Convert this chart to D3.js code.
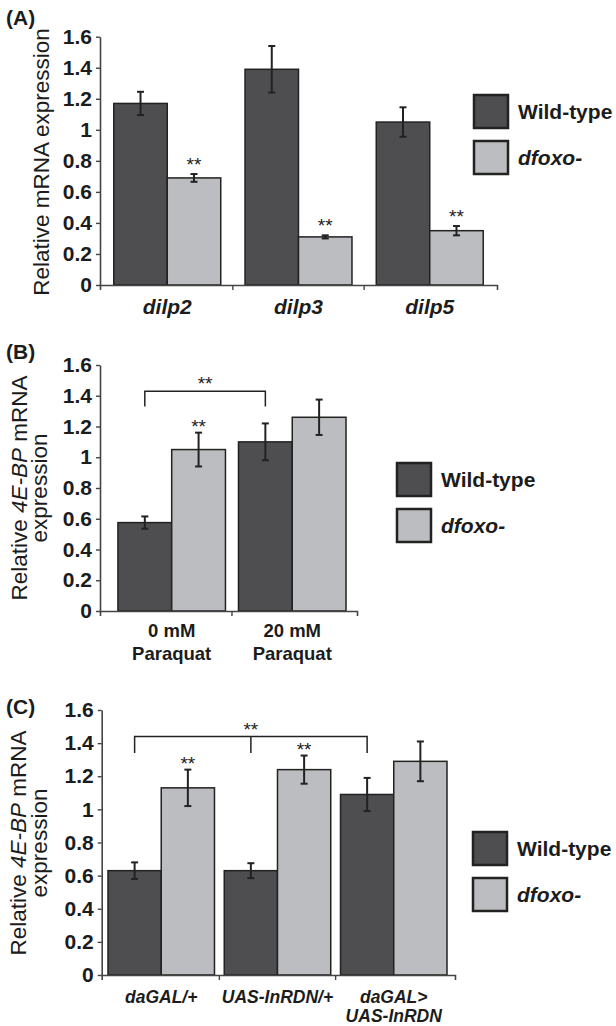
<!DOCTYPE html>
<html>
<head>
<meta charset="utf-8">
<script src="https://cdn.jsdelivr.net/npm/d3@7"></script>
<style>
  body { margin: 0; background: #fff; }
  svg { display: block; font-family: "Liberation Sans", Arial, Helvetica, sans-serif; }
</style>
</head>
<body>
<div id="viz"></div>
<script>
'use strict';

const seriesNames = ['Wild-type', 'dfoxo-'];
const yTicks = [0, 0.2, 0.4, 0.6, 0.8, 1, 1.2, 1.4, 1.6];

// (A) dilp transcripts
const catsA = [['dilp2'], ['dilp3'], ['dilp5']];
const wtA = [1.17, 1.39, 1.05];
const wtErrA = [0.075, 0.15, 0.095];
const foxoA = [0.69, 0.31, 0.35];
const foxoErrA = [0.025, 0.01, 0.03];
const starsA = ['**', '**', '**'];

// (B) 4E-BP with paraquat
const catsB = [['0 mM', 'Paraquat'], ['20 mM', 'Paraquat']];
const wtB = [0.575, 1.10];
const wtErrB = [0.04, 0.12];
const foxoB = [1.05, 1.26];
const foxoErrB = [0.11, 0.115];
const starsB = ['**', ''];
const bracketB = [0, 1];

// (C) 4E-BP with InR dominant negative
const catsC = [['daGAL/+'], ['UAS-InRDN/+'], ['daGAL>', 'UAS-InRDN']];
const wtC = [0.63, 0.63, 1.09];
const wtErrC = [0.05, 0.045, 0.10];
const foxoC = [1.13, 1.24, 1.29];
const foxoErrC = [0.11, 0.085, 0.12];
const starsC = ['**', '**', ''];
const bracketC = [0, 1, 2];

const colors = ['#4e4e50', '#bcbdc0'];
const ink = '#1c1c1c';
const axisColor = '#444';

const svg = d3.select('#viz')
  .append('svg')
    .attr('width', 616)
    .attr('height', 1026);

const titleA = [[{t: 'Relative mRNA expression'}]];
const title4EBP = [
  [{t: 'Relative '}, {t: '4E-BP', i: true}, {t: ' mRNA'}],
  [{t: 'expression'}]
];

drawPanel({
  tag: '(A)', tagY: 25,
  cats: catsA, wt: wtA, wtErr: wtErrA, foxo: foxoA, foxoErr: foxoErrA, stars: starsA,
  xRange: [100, 497], yRange: [285, 36.7], pi: 0.185, po: 0.105, align: 0.5,
  catFont: {size: 21, italic: true}, catY: 314, catLine: 22,
  title: titleA, titleX: [49], titleY: 162,
  legend: {x: 474, y: 95},
  starGap: 3
});

drawPanel({
  tag: '(B)', tagY: 359,
  cats: catsB, wt: wtB, wtErr: wtErrB, foxo: foxoB, foxoErr: foxoErrB, stars: starsB,
  bracket: bracketB, bracketLevel: 1.43,
  xRange: [100, 357], yRange: [611, 365], pi: 0.108, po: 0.12, align: 0.62,
  catFont: {size: 18.5, italic: false}, catY: 637, catLine: 23,
  title: title4EBP, titleX: [26.5, 46.5], titleY: 488,
  legend: {x: 397, y: 463},
  starGap: 0
});

drawPanel({
  tag: '(C)', tagY: 714,
  cats: catsC, wt: wtC, wtErr: wtErrC, foxo: foxoC, foxoErr: foxoErrC, stars: starsC,
  bracket: bracketC, bracketLevel: 1.44,
  xRange: [101.7, 455], yRange: [975, 710], pi: 0.084, po: 0.0615, align: 0.44,
  catFont: {size: 17.5, italic: true}, catY: 1003, catLine: 19,
  title: title4EBP, titleX: [25.5, 46.5], titleY: 843,
  legend: {x: 473, y: 832},
  starGap: 0
});

function drawPanel(p) {
  const g = svg.append('g');

  const x0 = d3.scaleBand()
    .domain(d3.range(p.cats.length))
    .range(p.xRange)
    .paddingInner(p.pi)
    .paddingOuter(p.po)
    .align(p.align);

  const x1 = d3.scaleBand()
    .domain(seriesNames)
    .range([0, x0.bandwidth()]);

  const y = d3.scaleLinear()
    .domain([0, 1.6])
    .range(p.yRange);

  const rows = p.cats.map((c, i) => ({
    i,
    vals: [
      {s: seriesNames[0], v: p.wt[i], e: p.wtErr[i], star: ''},
      {s: seriesNames[1], v: p.foxo[i], e: p.foxoErr[i], star: p.stars[i]}
    ]
  }));

  // panel tag
  g.append('text')
    .attr('x', 6)
    .attr('y', p.tagY)
    .attr('font-size', 21)
    .attr('font-weight', 'bold')
    .attr('fill', ink)
    .text(p.tag);

  // Y axis
  g.append('g')
    .attr('transform', `translate(${p.xRange[0]},0)`)
    .call(d3.axisLeft(y)
      .tickValues(yTicks)
      .tickSize(4)
      .tickSizeOuter(0)
      .tickPadding(4)
      .tickFormat(d3.format('~g')))
    .call(a => {
      a.attr('font-family', null).attr('font-size', null);
      a.select('.domain').attr('stroke', axisColor).attr('stroke-width', 1.6);
      a.selectAll('.tick line').attr('stroke', axisColor).attr('stroke-width', 1.4);
      a.selectAll('.tick text')
        .attr('font-size', 21)
        .attr('font-weight', 'bold')
        .attr('fill', ink);
    });

  // Y title
  p.title.forEach((segs, li) => {
    const t = g.append('text')
      .attr('transform', `translate(${p.titleX[li]},${p.titleY}) rotate(-90)`)
      .attr('text-anchor', 'middle')
      .attr('font-size', 22.5)
      .attr('fill', ink);
    segs.forEach(s => {
      t.append('tspan')
        .attr('font-style', s.i ? 'italic' : null)
        .text(s.t);
    });
  });

  // bars
  const groups = g.selectAll('.cat')
    .data(rows)
    .join('g')
      .attr('class', 'cat')
      .attr('transform', d => `translate(${x0(d.i)},0)`);

  groups.selectAll('rect')
    .data(d => d.vals)
    .join('rect')
      .attr('x', d => x1(d.s))
      .attr('y', d => y(d.v))
      .attr('width', x1.bandwidth())
      .attr('height', d => y(0) - y(d.v))
      .attr('fill', (d, i) => colors[i])
      .attr('stroke', '#222')
      .attr('stroke-width', 1.5);

  // error bars
  const err = groups.selectAll('.err')
    .data(d => d.vals)
    .join('g')
      .attr('class', 'err')
      .attr('stroke', '#222')
      .attr('stroke-width', 2);

  const cx = d => x1(d.s) + x1.bandwidth() / 2;

  err.append('line')
    .attr('x1', cx).attr('x2', cx)
    .attr('y1', d => y(d.v + d.e))
    .attr('y2', d => y(d.v - d.e));
  err.append('line')
    .attr('x1', d => cx(d) - 3.5).attr('x2', d => cx(d) + 3.5)
    .attr('y1', d => y(d.v + d.e)).attr('y2', d => y(d.v + d.e));
  err.append('line')
    .attr('x1', d => cx(d) - 3.5).attr('x2', d => cx(d) + 3.5)
    .attr('y1', d => y(d.v - d.e)).attr('y2', d => y(d.v - d.e));

  // significance marks
  groups.selectAll('.star')
    .data(d => d.vals.filter(v => v.star))
    .join('text')
      .attr('class', 'star')
      .attr('x', cx)
      .attr('y', d => y(d.v + d.e) - p.starGap)
      .attr('text-anchor', 'middle')
      .attr('font-size', 19)
      .attr('fill', ink)
      .text(d => d.star);

  // X axis line with end ticks
  g.append('g')
    .attr('transform', `translate(0,${y(0)})`)
    .call(d3.axisBottom(x0).tickSize(0).tickSizeOuter(5).tickFormat(''))
    .call(a => {
      a.selectAll('.tick').remove();
      a.select('.domain').attr('stroke', axisColor).attr('stroke-width', 1.6);
    });

  // category boundary ticks
  g.selectAll('.sep')
    .data(d3.range(1, p.cats.length))
    .join('line')
      .attr('class', 'sep')
      .attr('x1', i => x0(i) - x0.step() * x0.paddingInner() / 2)
      .attr('x2', i => x0(i) - x0.step() * x0.paddingInner() / 2)
      .attr('y1', y(0))
      .attr('y2', y(0) + 5)
      .attr('stroke', axisColor)
      .attr('stroke-width', 1.4);

  // category labels
  p.cats.forEach((lines, i) => {
    lines.forEach((ln, li) => {
      g.append('text')
        .attr('x', x0(i) + x0.bandwidth() / 2)
        .attr('y', p.catY + li * p.catLine)
        .attr('text-anchor', 'middle')
        .attr('font-size', p.catFont.size)
        .attr('font-weight', 'bold')
        .attr('font-style', p.catFont.italic ? 'italic' : null)
        .attr('fill', ink)
        .text(ln);
    });
  });

  // comparison bracket between wild-type bars
  if (p.bracket) {
    const xs = p.bracket.map(i => x0(i) + x1(seriesNames[0]) + x1.bandwidth() / 2);
    const top = y(p.bracketLevel);
    const bot = y(p.bracketLevel - 0.1);
    let d = `M${xs[0]},${bot}V${top}H${xs[xs.length - 1]}V${bot}`;
    xs.slice(1, -1).forEach(x => { d += `M${x},${top}V${bot}`; });
    g.append('path')
      .attr('d', d)
      .attr('fill', 'none')
      .attr('stroke', '#222')
      .attr('stroke-width', 1.5);
    const mid = xs.length % 2 ? xs[(xs.length - 1) / 2] : (xs[0] + xs[xs.length - 1]) / 2;
    g.append('text')
      .attr('x', mid)
      .attr('y', top - 1)
      .attr('text-anchor', 'middle')
      .attr('font-size', 19)
      .attr('fill', ink)
      .text('**');
  }

  // legend
  const leg = g.selectAll('.leg')
    .data(seriesNames)
    .join('g')
      .attr('class', 'leg')
      .attr('transform', (d, i) => `translate(${p.legend.x},${p.legend.y + i * 46})`);

  leg.append('rect')
    .attr('width', 34)
    .attr('height', 33)
    .attr('fill', (d, i) => colors[i])
    .attr('stroke', '#222')
    .attr('stroke-width', 2.5);

  leg.append('text')
    .attr('x', 44)
    .attr('y', 16.5)
    .attr('dy', '0.36em')
    .attr('font-size', 21)
    .attr('font-weight', 'bold')
    .attr('font-style', (d, i) => i === 1 ? 'italic' : null)
    .attr('fill', ink)
    .text(d => d);
}
</script>
</body>
</html>
